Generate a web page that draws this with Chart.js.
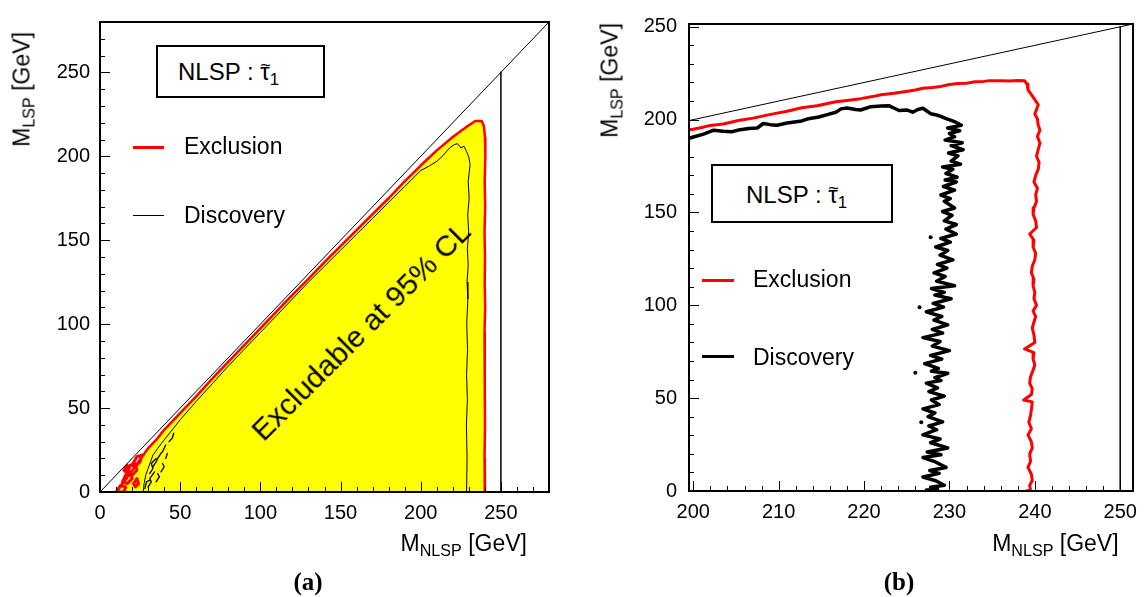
<!DOCTYPE html>
<html>
<head>
<meta charset="utf-8">
<script src="https://cdn.jsdelivr.net/npm/chart.js@4.4.1/dist/chart.umd.min.js"></script>
<style>
body { margin:0; background:#fff; }
#page { position:relative; width:1146px; height:597px; overflow:hidden; font-family:"Liberation Sans", Arial, sans-serif; color:#000; }
canvas { position:absolute; top:0; }
.txt { position:absolute; white-space:nowrap; line-height:1; }
.sub { font-size:0.7em; position:relative; top:0.32em; }
.tau { position:relative; display:inline-block; }
.tl { position:absolute; left:0; width:100%; text-align:center; top:-0.24em; font-size:0.75em; }
.box { position:absolute; border:2px solid #000; box-sizing:border-box; background:#fff; }
.sw { position:absolute; }
.cap { font-size:25px; font-weight:bold; font-family:'Liberation Serif', serif; }
</style>
</head>
<body>
<div id="page">
  <canvas id="chartA" width="573" height="597" style="left:0"></canvas>
  <canvas id="chartB" width="573" height="597" style="left:573px"></canvas>

  <!-- panel (a) texts -->
  <div class="txt" style="left:21.5px;top:32px;font-size:23px;transform-origin:0 0;transform:rotate(-90deg) translate(-100%,-50%)">M<span class="sub">LSP</span> [GeV]</div>
  <div class="txt" style="left:527px;top:543px;font-size:23px;transform:translate(-100%,-50%)">M<span class="sub">NLSP</span> [GeV]</div>
  <div class="box" style="left:156px;top:45px;width:169px;height:53px"></div>
  <div class="txt" style="left:178px;top:72px;font-size:24px;transform:translateY(-50%)">NLSP : <span class="tau">τ<span class="tl">~</span></span><span class="sub">1</span></div>
  <div class="sw" style="left:133px;top:146px;width:31px;height:3px;background:#ff0000"></div>
  <div class="txt" style="left:184px;top:146px;font-size:23px;transform:translateY(-50%)">Exclusion</div>
  <div class="sw" style="left:133px;top:215px;width:31px;height:1px;background:#000"></div>
  <div class="txt" style="left:184px;top:215px;font-size:23px;transform:translateY(-50%)">Discovery</div>
  <div class="txt" style="left:361px;top:331px;font-size:30px;transform:translate(-50%,-50%) rotate(-45deg)">Excludable at 95% CL</div>
  <div class="txt cap" style="left:308px;top:581px;transform:translate(-50%,-50%)">(a)</div>

  <!-- panel (b) texts -->
  <div class="txt" style="left:609.5px;top:23px;font-size:23px;transform-origin:0 0;transform:rotate(-90deg) translate(-100%,-50%)">M<span class="sub">LSP</span> [GeV]</div>
  <div class="txt" style="left:1118.6px;top:543px;font-size:23px;transform:translate(-100%,-50%)">M<span class="sub">NLSP</span> [GeV]</div>
  <div class="box" style="left:711px;top:164px;width:182px;height:59px"></div>
  <div class="txt" style="left:746px;top:195px;font-size:24px;transform:translateY(-50%)">NLSP : <span class="tau">τ<span class="tl">~</span></span><span class="sub">1</span></div>
  <div class="sw" style="left:702px;top:278.5px;width:32px;height:3px;background:#ff0000"></div>
  <div class="txt" style="left:753px;top:279px;font-size:23px;transform:translateY(-50%)">Exclusion</div>
  <div class="sw" style="left:702px;top:355px;width:32px;height:3px;background:#000"></div>
  <div class="txt" style="left:753px;top:357px;font-size:23px;transform:translateY(-50%)">Discovery</div>
  <div class="txt cap" style="left:899px;top:581px;transform:translate(-50%,-50%)">(b)</div>
</div>

<script>
// ---- panel (a): full mass plane ----
var xTicksA = [0, 50, 100, 150, 200, 250];
var yTicksA = [0, 50, 100, 150, 200, 250];

// exclusion contour (red, also bounds the yellow area)
var excAx = [10, 12, 15, 18, 21, 24, 27, 30, 35, 40, 50, 60, 70, 80, 90, 100, 110, 120, 130, 140, 150, 160, 170, 180, 190, 200, 210, 220, 225, 230, 234, 238, 239.4, 240.1, 240.3, 239.9, 240.2, 239.8, 240.1, 239.9, 240.2, 239.8, 240, 239.9, 240.1, 239.8, 240];
var excAy = [0, 3, 6, 10, 14, 18, 22, 26, 31, 37, 47, 57, 67.5, 77.5, 87.5, 97.5, 107.5, 117.5, 127, 137, 146.5, 156, 165.5, 175, 185, 194.5, 203.5, 211.5, 215, 218.5, 221, 221, 218, 211, 200, 185, 170, 155, 140, 125, 110, 95, 80, 60, 40, 20, 0];

// red islands near the origin
var blobAx = [11, 13, 16, 15, 12, 11, null, 14, 16, 19, 20, 17, 14, null, 17, 19, 22, 23, 20, 17, null, 20, 23, 26, 25, 22, 20, null, 15, 17, 18, 16, 15, null, 21, 23, 24, 22, 21];
var blobAy = [1, 4, 3, 0, 0, 1, null, 6, 10, 12, 8, 5, 6, null, 11, 16, 17, 13, 10, 11, null, 16, 21, 22, 18, 15, 16, null, 13, 16, 14, 12, 13, null, 5, 8, 5, 3, 5];

// discovery contour (thin black)
var dscAx = [27, 27.5, 28.5, 30, 31.5, 33, 36, 40, 45, 50, 60, 70, 80, 90, 100, 110, 120, 130, 140, 150, 160, 170, 180, 190, 200, 205, 210, 214, 218, 221, 223, 225, 227, 228.5, 230, 230.8, 229.6, 230.2, 229.3, 229.9, 229.1, 229.6, 228.9, 229.4, 228.7, 229.2, 228.6, 229.1, 228.5, 228.9, 228.6];
var dscAy = [0, 5, 10, 14, 18, 22, 26, 31, 37, 43, 54, 64.5, 75, 85, 95, 105, 115, 125, 134.5, 144, 153.5, 163, 172.5, 182, 191.5, 194, 197, 200.5, 205, 207, 207.5, 205, 206, 203, 199.5, 195, 185, 175, 165, 155, 145, 135, 125, 115, 100, 85, 70, 55, 40, 20, 0];

// black fragments near the origin
var dblobAx = [30, 32, 31, 34, null, 33, 35, 36, 38, 39, 41, null, 35, 37, 36, null, 43, 45, 46, null, 31, 33, 32, 35, null, 38, 40, 39, null, 28, 29, 31, null, 41, 42];
var dblobAy = [3, 6, 8, 12, null, 15, 18, 20, 23, 24, 28, null, 6, 9, 11, null, 30, 32, 35, null, 11, 14, 17, 20, null, 12, 15, 17, null, 2, 6, 7, null, 20, 23];

// ---- panel (b): zoom on the corner ----
var xTicksB = [200, 210, 220, 230, 240, 250];
var yTicksB = [0, 50, 100, 150, 200, 250];

var excBx = [199.5, 200, 201, 202, 203.5, 205.3, 207, 208.5, 209.8, 211, 212.7, 214.5, 216.7, 218, 219.6, 221, 222, 223.5, 224.9, 226, 226.9, 228, 229, 230, 231, 232, 233, 234, 234.7, 236, 237.1, 238, 238.8,
  239.1, 239.2, 239.6, 240, 240.4, 240.2, 240, 240.3, 240.4, 240.6, 240.3, 240.6, 240.4, 240.2, 240.5, 240.4, 240.1, 239.9, 240.3, 240.1, 240.2, 239.9, 239.8, 240.1, 240.2, 239.4, 239.9, 239.8, 240.1, 240, 239.7, 239.6, 239.9, 239.8, 240, 239.9, 240.2, 239.8, 240.1, 239.9, 239.7, 239.9, 240, 238.8, 239.9, 239.8, 240, 239.8, 239.5, 239.4, 239.7, 239.6, 238.7, 239.7, 239.6, 239.5, 239.3, 239.6, 239.2, 239.6, 239.7, 239.4, 239.5, 239.2, 239.6, 239.7, 239.4, 239.5, 239.0];
var excBy = [194.6, 194.8, 195.8, 196.9, 197.6, 199.5, 200.8, 202.3, 203.5, 204.5, 206.4, 207.5, 209.6, 210.3, 211.3, 212.4, 213.4, 214.2, 215.2, 216, 216.9, 217.3, 217.9, 218.9, 219.5, 219.6, 220.4, 220.6, 221, 221, 220.8, 221.1, 221,
  219, 216, 213.5, 210.8, 208, 205.5, 203, 200.5, 197, 194.3, 191, 187.3, 184, 180.3, 177, 173.3, 170, 166.4, 163, 159.5, 156, 152.5, 149, 145.5, 141.9, 138.4, 135, 131.4, 128, 124.5, 121, 117.5, 114, 110.5, 107, 103.5, 100, 97, 93.9, 91, 87.8, 84, 80, 76.5, 74.5, 71, 68, 65.1, 61.5, 58.1, 55, 52, 49, 48, 44, 40.7, 37, 33.5, 30.2, 26.5, 23.2, 20, 16, 12.7, 9, 5.8, 3, 0.5, 0];

var dscBx = [199.5, 199.8, 201.2, 202.4, 203.5, 204.5, 205.5, 206.5, 207.5, 208.2, 209, 209.8, 211, 212.7, 213.5, 214.7, 215.8, 216.7, 217.3, 218, 219, 219.6, 220.8, 222, 222.9, 223.6, 224.1, 225, 225.7, 226.3, 226.9, 227.4, 227.8, 228.5, 229, 229.6, 230.2, 230.8, 231.4,
  229.8, 231.2, 230, 230.6, 229.5, 231.5, 230.2, 231.6, 229.9, 231, 230.2, 231.3, 229.2, 230.4, 229.6, 230.9, 229.5, 230.8, 229.3, 230.6, 229, 230.1, 229.4, 230.6, 229.2, 230.3, 229.4, 230.8, 229.6, 230.8, 229, 230.1, 228.4, 229.8, 228.9, 230.4, 228.6, 229.7, 228.2, 229.5, 228.5, 230.6, 227.9, 229.4, 228.3, 230.2, 228.1, 229.3, 227.3, 229.1, 228.2, 229.8, 228, 229.2, 226.9, 228.9, 228, 230, 227.8, 229.1, 227.1, 228.7, 227.9, 229.8, 228.3, 229, 227.3, 228.6, 227.6, 229.4, 227.9, 228.8, 226.9, 228.3, 227.5, 229.2, 227.6, 228.5, 226.9, 228.9, 227.8, 229.8, 227.4, 229, 226.9, 228.2, 229.6, 227.7, 228.8, 226.9, 228.4, 229.4, 227.8, 228.6, 227.3, 228];
var dscBy = [190, 190.4, 192.2, 194.3, 193.8, 193.5, 194.6, 195.2, 195.5, 197.9, 197.3, 197, 198.2, 199.3, 200.5, 201.4, 202.8, 204, 205.8, 206.3, 205.5, 205.2, 207, 207.3, 207.5, 206, 204.9, 205.2, 204, 205.5, 206.1, 204.5, 203.2, 202.5, 201.7, 200.5, 199.6, 198.5, 197,
  195.5, 194, 192.5, 190.8, 189, 187.5, 186, 183.8, 182, 180.5, 177.7, 176, 174.5, 173.3, 171, 169, 167.5, 166.4, 164, 162, 159.4, 157.5, 156, 152.4, 150.5, 148.5, 145.5, 143.5, 141, 138.4, 136, 134, 131.4, 129.5, 127, 124.5, 122, 120, 117.5, 115.5, 113, 110.5, 109, 107, 105.5, 103.5, 101, 99, 96.5, 94, 92, 89.5, 87, 85, 82.6, 80.5, 78, 75.6, 73, 71, 68.6, 66, 64.5, 63.4, 61, 59.5, 58.1, 55.5, 53.5, 51.1, 49, 46.5, 44.2, 42, 40, 37.2, 35, 33, 30.2, 28, 26, 23.2, 21, 19.5, 18, 16, 12.7, 11, 9.5, 7.5, 5.5, 3.1, 2, 1, 0.5, 0];

// stray points of the discovery contour
var dotBx = [226, 226.7, 226.5, 227.8];
var dotBy = [63.7, 37, 99, 136.6];

// kinematic limit (M_LSP = M_NLSP) and the M_NLSP = 250 GeV line
var diagX = [0, 300];
var diagY = [0, 300];
var vertX = [250, 250];
var vertY = [0, 250];

function pts(xs, ys) {
  return xs.map(function (x, i) { return { x: x, y: ys[i] }; });
}

function range(a, b, step) {
  var out = [];
  for (var v = a; v <= b + 1e-9; v += step) out.push(v);
  return out;
}

// ROOT style frame with inward tick marks
var rootFrame = {
  id: 'rootFrame',
  afterDraw: function (chart, args, opts) {
    var ctx = chart.ctx, a = chart.chartArea;
    var xs = chart.scales.x, ys = chart.scales.y;
    ctx.save();
    ctx.strokeStyle = '#000';
    ctx.lineWidth = 1;
    ctx.beginPath();
    function xt(v, len) {
      var p = Math.round(xs.getPixelForValue(v)) + 0.5;
      if (p < a.left || p > a.right) return;
      ctx.moveTo(p, a.bottom); ctx.lineTo(p, a.bottom - len);
    }
    function yt(v, len) {
      var p = Math.round(ys.getPixelForValue(v)) + 0.5;
      if (p < a.top || p > a.bottom) return;
      ctx.moveTo(a.left, p); ctx.lineTo(a.left + len, p);
    }
    opts.xMinor.forEach(function (v) { xt(v, 5); });
    opts.xMajor.forEach(function (v) { xt(v, 10); });
    opts.yMinor.forEach(function (v) { yt(v, 5); });
    opts.yMajor.forEach(function (v) { yt(v, 10); });
    ctx.stroke();
    ctx.lineWidth = 2;
    ctx.strokeRect(a.left, a.top, a.right - a.left, a.bottom - a.top);
    ctx.restore();
  }
};

function line(data, color, width, order, extra) {
  var ds = {
    data: data, showLine: true, borderColor: color, borderWidth: width,
    pointRadius: 0, tension: 0, fill: false, order: order,
    borderJoinStyle: 'round', borderCapStyle: 'round', spanGaps: false
  };
  for (var k in extra) ds[k] = extra[k];
  return ds;
}

function makePanel(id, datasets, cfg) {
  var font = { family: "'Liberation Sans', Arial, sans-serif", size: 20 };
  return new Chart(document.getElementById(id), {
    type: 'scatter',
    data: { datasets: datasets },
    plugins: [rootFrame],
    options: {
      responsive: false,
      animation: false,
      layout: { padding: { left: 0, top: cfg.top, right: cfg.right, bottom: 0 } },
      plugins: {
        legend: { display: false },
        tooltip: { enabled: false },
        rootFrame: { xMajor: cfg.xTicks, xMinor: cfg.xMinor, yMajor: cfg.yTicks, yMinor: cfg.yMinor }
      },
      scales: {
        x: {
          type: 'linear', min: cfg.xMin, max: cfg.xMax,
          afterBuildTicks: function (s) { s.ticks = cfg.xTicks.map(function (v) { return { value: v }; }); },
          afterFit: function (s) { s.height = cfg.xH; },
          grid: { display: false, drawTicks: false },
          border: { display: false },
          ticks: { font: font, color: '#000', padding: 9, maxRotation: 0, autoSkip: false, includeBounds: false }
        },
        y: {
          type: 'linear', min: cfg.yMin, max: cfg.yMax,
          afterBuildTicks: function (s) { s.ticks = cfg.yTicks.map(function (v) { return { value: v }; }); },
          afterFit: function (s) { s.width = cfg.yW; },
          grid: { display: false, drawTicks: false },
          border: { display: false },
          ticks: { font: font, color: '#000', padding: cfg.yPad, autoSkip: false, includeBounds: false }
        }
      }
    }
  });
}

makePanel('chartA', [
  line(pts(diagX, diagY), '#000', 1, 1),
  line(pts(vertX, vertY), '#000', 1.5, 1),
  line(pts(dscAx, dscAy), '#000', 1, 2),
  line(pts(dblobAx, dblobAy), '#000', 1.3, 2),
  line(pts(excAx, excAy), '#ff0000', 2.5, 4),
  line(pts(blobAx, blobAy), '#ff0000', 3, 4),
  line(pts(excAx, excAy), 'rgba(0,0,0,0)', 0, 9, { fill: 'origin', backgroundColor: '#ffff00' })
], {
  xMin: 0, xMax: 280, yMin: 0, yMax: 280,
  xTicks: xTicksA, yTicks: yTicksA,
  xMinor: range(0, 280, 10), yMinor: range(0, 280, 10),
  top: 11, right: 24, xH: 105, yW: 100, yPad: 10
});

makePanel('chartB', [
  line(pts(diagX, diagY), '#000', 1, 1),
  line(pts(vertX, vertY), '#000', 1.5, 1),
  line(pts(dscBx, dscBy), '#000', 3.5, 2),
  { data: pts(dotBx, dotBy), showLine: false, pointRadius: 2, pointBackgroundColor: '#000', pointBorderWidth: 0, order: 2 },
  line(pts(excBx, excBy), '#ff0000', 3, 4)
], {
  xMin: 199.5, xMax: 251.5, yMin: 0, yMax: 251.5,
  xTicks: xTicksB, yTicks: yTicksB,
  xMinor: range(200, 250, 2), yMinor: range(0, 250, 10),
  top: 11, right: 4, xH: 106, yW: 116, yPad: 12
});
</script>
</body>
</html>
